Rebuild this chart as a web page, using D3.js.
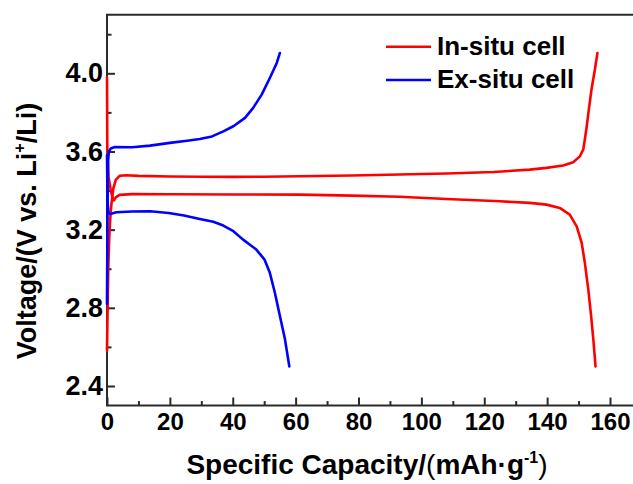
<!DOCTYPE html>
<html>
<head>
<meta charset="utf-8">
<script src="https://cdn.jsdelivr.net/npm/d3@7"></script>
<style>
	body { margin: 0; background: #fff; }
	text { font-family: Arial, "Liberation Sans", sans-serif; font-weight: bold; fill: #000; }
</style>
</head>
<body>
<svg class="chart" width="633" height="484"></svg>
<script>
// capacity (mAh/g), voltage (V)
var inSituCharge = [[0,2.58],[0.2,2.8],[0.4,3.0],[0.7,3.15],[1.0,3.25],[1.4,3.33],[2.0,3.41],[2.8,3.455],[4,3.475],[6,3.478],[10,3.475],
	[20,3.472],[30,3.471],[40,3.470],[50,3.471],[61,3.473],[78,3.477],[93,3.482],[108,3.487],[123,3.495],[134.5,3.507],[139.8,3.516],
	[145.1,3.528],[148.3,3.545],[150.4,3.575],[151.5,3.61],[152.0,3.661],[152.6,3.729],[153.4,3.831],[154.1,3.916],[155.2,4.019],[156.0,4.104]];
var inSituDischarge = [[0,3.98],[0.05,3.8],[0.1,3.6],[0.5,3.47],[1.2,3.40],[1.8,3.36],[2.2,3.35],[2.8,3.365],[4,3.378],[8,3.382],[20,3.381],
	[40,3.380],[61,3.379],[78,3.374],[93,3.368],[108,3.357],[125,3.345],[134.5,3.337],[139.8,3.328],[144.0,3.311],[147.2,3.277],
	[149.4,3.217],[151.0,3.132],[152.0,3.03],[153.1,2.893],[154.0,2.757],[154.7,2.638],[155.4,2.50]];
var exSituCharge = [[0,2.82],[0.1,3.1],[0.2,3.4],[0.35,3.55],[0.6,3.6],[1.2,3.615],[2.5,3.623],[8,3.622],[13.7,3.63],[20,3.644],[25.5,3.655],
	[29.5,3.664],[33.4,3.677],[37,3.703],[40.2,3.729],[43.9,3.772],[46.5,3.823],[49.2,3.891],[51.8,3.976],[54,4.053],[55,4.104]];
var exSituDischarge = [[0,3.58],[0.1,3.45],[0.25,3.33],[0.5,3.285],[1,3.28],[3,3.289],[8,3.293],[13.7,3.294],[19.6,3.285],[24.5,3.272],[29.5,3.255],
	[33.8,3.240],[37,3.221],[40.2,3.192],[43.3,3.149],[47.5,3.098],[50.1,3.047],[51.8,2.979],[53.4,2.877],[55,2.758],[56.6,2.64],[58.0,2.5]];

var xMajor = [0,20,40,60,80,100,120,140,160],
	xMinor = [10,30,50,70,90,110,130,150],
	yMajor = [2.4,2.8,3.2,3.6,4.0],
	yMinor = [2.6,3.0,3.4,3.8,4.2];

var legendNames = ["In-situ cell", "Ex-situ cell"],
	legendColors = ["#ff0000", "#0000ff"];

var xEnd = 168;

var x = d3.scaleLinear().domain([0, 160]).range([107, 610]);
var y = d3.scaleLinear().domain([2.4, 4.0]).range([386, 73.3]);

var chart = d3.select(".chart");

// frame (right side is cut off by the picture edge)
chart.append("path")
	.attr("d", "M" + x(xEnd) + "," + y(4.3) + "H" + x(0) + "V" + y(2.3) + "H" + x(xEnd))
	.attr("fill", "none")
	.attr("stroke", "#2a2a2a")
	.attr("stroke-width", 2);

chart.append("g")
	.attr("transform", "translate(0," + y(2.3) + ")")
	.call(d3.axisBottom(x).tickValues(xMajor).tickSize(-8).tickPadding(7).tickFormat(d3.format("d")))
	.selectAll("text").style("font-size", "24px");
chart.append("g")
	.attr("transform", "translate(0," + y(2.3) + ")")
	.call(d3.axisBottom(x).tickValues(xMinor).tickSize(-4.5).tickFormat(""));

chart.append("g")
	.attr("transform", "translate(" + x(0) + ",0)")
	.call(d3.axisLeft(y).tickValues(yMajor).tickSize(-8).tickPadding(4).tickFormat(d3.format(".1f")))
	.selectAll("text").style("font-size", "27px");
chart.append("g")
	.attr("transform", "translate(" + x(0) + ",0)")
	.call(d3.axisLeft(y).tickValues(yMinor).tickSize(-4.5).tickFormat(""));

chart.selectAll(".domain").remove();
chart.selectAll(".tick line").attr("stroke", "#2a2a2a").attr("stroke-width", 2);
chart.selectAll(".tick text")
	.style("font-family", "Arial, 'Liberation Sans', sans-serif")
	.style("font-weight", "bold")
	.attr("fill", "#000");

var line = d3.line()
	.x(function(d) { return x(d[0]); })
	.y(function(d) { return y(d[1]); });

var curves = [
	{data: inSituCharge, color: legendColors[0]},
	{data: inSituDischarge, color: legendColors[0]},
	{data: exSituCharge, color: legendColors[1]},
	{data: exSituDischarge, color: legendColors[1]}
];

chart.selectAll(".curve")
	.data(curves)
.enter().append("path")
	.attr("class", "curve")
	.attr("d", function(d) { return line(d.data); })
	.attr("fill", "none")
	.attr("stroke", function(d) { return d.color; })
	.attr("stroke-width", 2.6)
	.attr("stroke-linejoin", "round")
	.attr("stroke-linecap", "round");

// legend
var legend = chart.selectAll(".legend")
	.data(legendNames)
.enter().append("g")
	.attr("class", "legend")
	.attr("transform", function(d, i) { return "translate(0," + (46.7 + i * 33.3) + ")"; });

legend.append("line")
	.attr("x1", 386)
	.attr("x2", 431)
	.attr("stroke", function(d, i) { return legendColors[i]; })
	.attr("stroke-width", 2.6);

legend.append("text")
	.attr("x", 437)
	.attr("y", 8)
	.style("font-size", "26px")
	.text(function(d) { return d; });

// axis titles
var xt = chart.append("text")
	.attr("x", 367)
	.attr("y", 474)
	.attr("text-anchor", "middle")
	.style("font-size", "28px");
xt.append("tspan").text("Specific Capacity/");
xt.append("tspan").style("font-weight", "normal").text("(");
xt.append("tspan").text("mAh·g");
xt.append("tspan").attr("dy", -11).style("font-size", "16px").text("-1");
xt.append("tspan").attr("dy", 11).style("font-weight", "normal").text(")");

var yt = chart.append("text")
	.attr("transform", "translate(36,231) rotate(-90)")
	.attr("text-anchor", "middle")
	.style("font-size", "27px");
yt.append("tspan").text("Voltage/(V vs. Li");
yt.append("tspan").attr("dy", -11).style("font-size", "16px").text("+");
yt.append("tspan").attr("dy", 11).text("/Li)");
</script>
</body>
</html>
